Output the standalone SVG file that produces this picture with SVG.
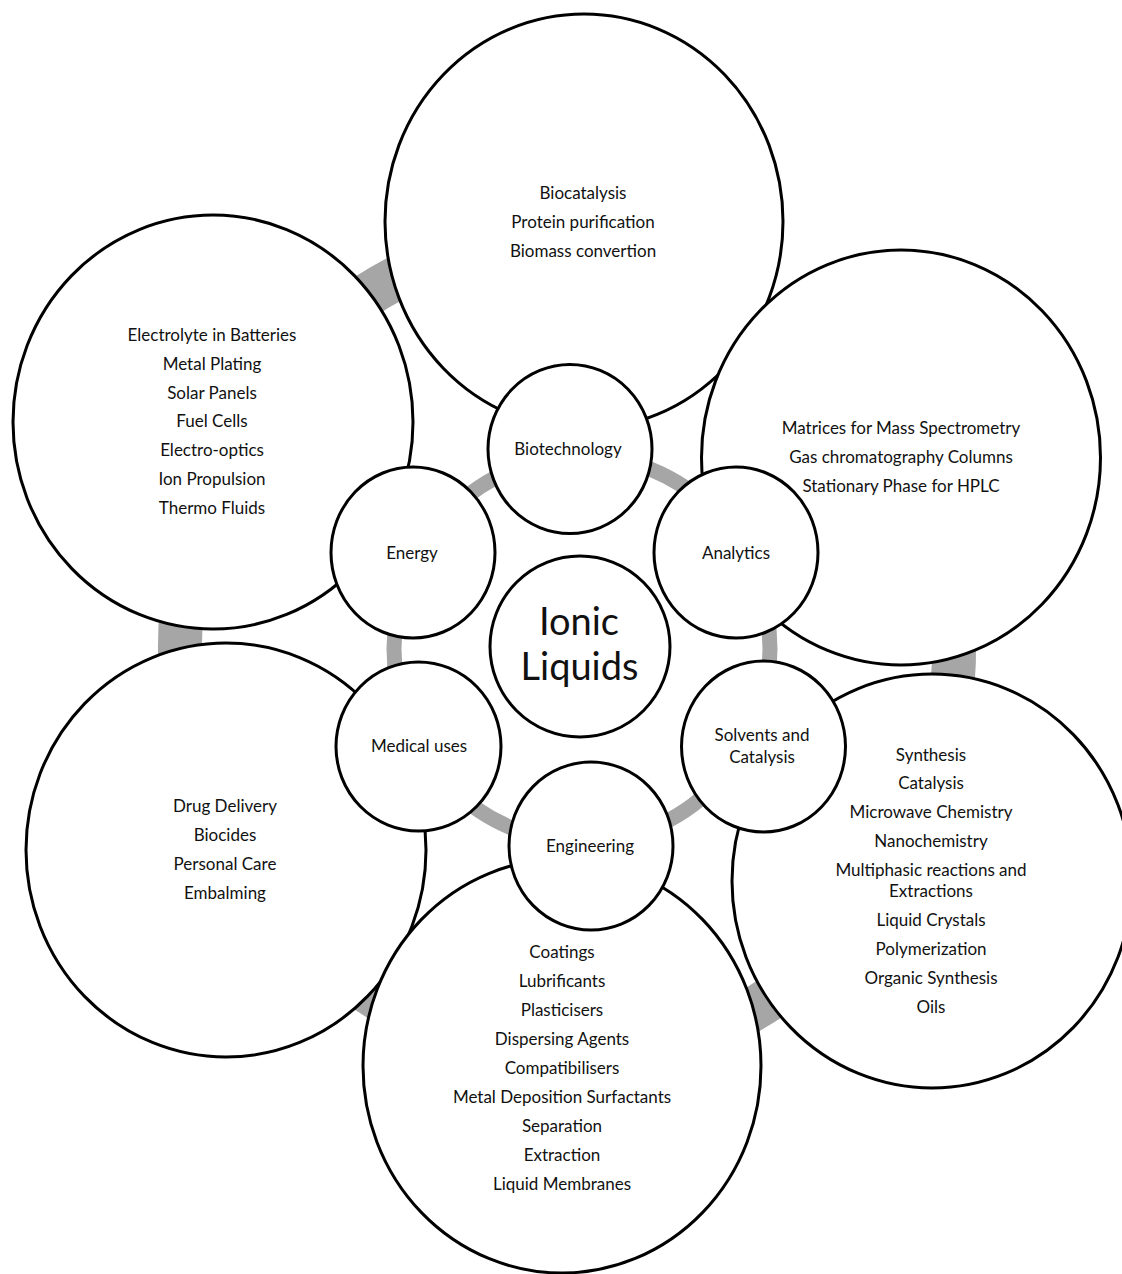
<svg xmlns="http://www.w3.org/2000/svg" width="1122" height="1274" viewBox="0 0 1122 1274">
<style>
.big,.small,.core{fill:#fff;stroke:#000;stroke-width:3}
.t{font-family:Lato,"Liberation Sans",sans-serif;font-size:17px;fill:#111;text-anchor:middle}
.title{font-size:38px}
.ring{fill:none;stroke:#a6a6a6}
.inner{stroke-width:15}
.outer{stroke-width:44}
</style>
<rect width="1122" height="1274" fill="#fff"/>
<g id="connectors">
<ellipse class="ring inner" cx="582" cy="649" rx="188" ry="193"/>
<path class="ring outer" d="M313.1 337.1 A387 412 0 0 1 453.8 254.0"/>
<path class="ring outer" d="M188.5 733.7 A387 412 0 0 1 188.5 562.3"/>
<path class="ring outer" d="M437.0 1027.6 A380 404 0 0 1 317.7 952.9"/>
<path class="ring outer" d="M815.8 963.6 A387 412 0 0 1 693.0 1037.5"/>
<path class="ring outer" d="M948.1 576.5 A387 412 0 0 1 942.5 747.7"/>
</g>
<g id="energy-applications">
<ellipse class="big" cx="213" cy="422" rx="200" ry="207"/>
<text class="t" x="212" y="341">Electrolyte in Batteries</text>
<text class="t" x="212" y="370">Metal Plating</text>
<text class="t" x="212" y="398.5">Solar Panels</text>
<text class="t" x="212" y="427">Fuel Cells</text>
<text class="t" x="212" y="456">Electro-optics</text>
<text class="t" x="212" y="485">Ion Propulsion</text>
<text class="t" x="212" y="514">Thermo Fluids</text>
</g>
<g id="medical-applications">
<ellipse class="big" cx="226" cy="850" rx="200" ry="207"/>
<text class="t" x="225" y="811.5">Drug Delivery</text>
<text class="t" x="225" y="841">Biocides</text>
<text class="t" x="225" y="870">Personal Care</text>
<text class="t" x="225" y="899">Embalming</text>
</g>
<g id="engineering-applications">
<ellipse class="big" cx="562" cy="1066" rx="199" ry="207"/>
<text class="t" x="562" y="958">Coatings</text>
<text class="t" x="562" y="987">Lubrificants</text>
<text class="t" x="562" y="1016">Plasticisers</text>
<text class="t" x="562" y="1045">Dispersing Agents</text>
<text class="t" x="562" y="1074">Compatibilisers</text>
<text class="t" x="562" y="1103">Metal Deposition Surfactants</text>
<text class="t" x="562" y="1132">Separation</text>
<text class="t" x="562" y="1161">Extraction</text>
<text class="t" x="562" y="1190">Liquid Membranes</text>
</g>
<g id="solvents-applications">
<ellipse class="big" cx="932" cy="881" rx="200" ry="207"/>
<text class="t" x="931" y="761">Synthesis</text>
<text class="t" x="931" y="789">Catalysis</text>
<text class="t" x="931" y="818">Microwave Chemistry</text>
<text class="t" x="931" y="847">Nanochemistry</text>
<text class="t" x="931" y="876">Multiphasic reactions and</text>
<text class="t" x="931" y="897">Extractions</text>
<text class="t" x="931" y="926">Liquid Crystals</text>
<text class="t" x="931" y="955">Polymerization</text>
<text class="t" x="931" y="983.5">Organic Synthesis</text>
<text class="t" x="931" y="1013">Oils</text>
</g>
<g id="biotechnology-applications">
<ellipse class="big" cx="584" cy="221.5" rx="199" ry="207.5"/>
<text class="t" x="583" y="199">Biocatalysis</text>
<text class="t" x="583" y="228">Protein purification</text>
<text class="t" x="583" y="257">Biomass convertion</text>
</g>
<g id="analytics-applications">
<ellipse class="big" cx="901" cy="457.5" rx="199.5" ry="207.5"/>
<text class="t" x="901" y="434">Matrices for Mass Spectrometry</text>
<text class="t" x="901" y="463">Gas chromatography Columns</text>
<text class="t" x="901" y="491.5">Stationary Phase for HPLC</text>
</g>
<g id="biotechnology">
<ellipse class="small" cx="570" cy="449" rx="82" ry="84.5"/>
<text class="t" x="568" y="455">Biotechnology</text>
</g>
<g id="energy">
<ellipse class="small" cx="413" cy="552.5" rx="82" ry="85.5"/>
<text class="t" x="412" y="558.5">Energy</text>
</g>
<g id="analytics">
<ellipse class="small" cx="736" cy="552.5" rx="82" ry="85.5"/>
<text class="t" x="736" y="558.5">Analytics</text>
</g>
<g id="medical-uses">
<ellipse class="small" cx="418.5" cy="746.5" rx="82.5" ry="84.5"/>
<text class="t" x="419" y="752">Medical uses</text>
</g>
<g id="solvents-and-catalysis">
<ellipse class="small" cx="763.5" cy="746.5" rx="82" ry="85.5"/>
<text class="t" x="762" y="741">Solvents and</text>
<text class="t" x="762" y="763">Catalysis</text>
</g>
<g id="engineering">
<ellipse class="small" cx="591" cy="846" rx="82" ry="84"/>
<text class="t" x="590" y="852">Engineering</text>
</g>
<g id="ionic-liquids">
<ellipse class="core" cx="580" cy="646.5" rx="90" ry="90.5"/>
<text class="t title" x="579" y="635">Ionic</text>
<text class="t title" x="579.5" y="680">Liquids</text>
</g>
</svg>
